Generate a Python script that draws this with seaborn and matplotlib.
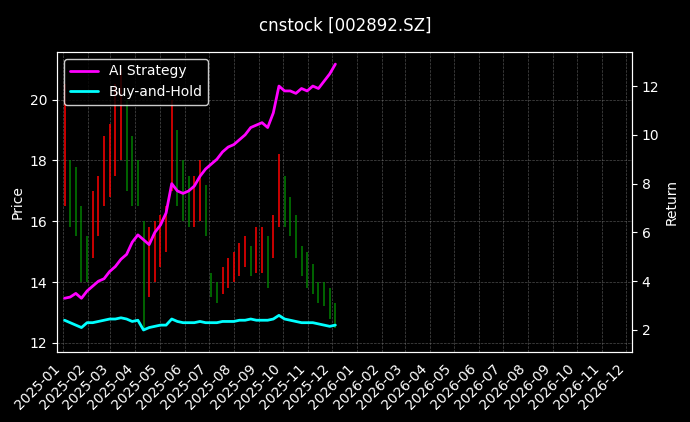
import matplotlib
matplotlib.use("Agg")
import matplotlib.pyplot as plt
import matplotlib.dates as mdates
import seaborn as sns
import pandas as pd

sns.set_style("dark")
plt.style.use("dark_background")

dates = pd.date_range("2025-01-03", periods=49, freq="W-FRI")
high = [20.5,18,17.8,16.5,15.5, 17,17.5,18.8,19.2, 20.5,21,20,18.8, 18,16,15.8,16,
        16.2,16.5,20,19,18, 17.5,17.5,18,17.2, 14.3,14,14.5,14.8, 15,15.3,15.5,15.2,15.8,
        15.8,15.5,16.2,18.2, 17.5,16.8,16.2,15.2,15, 14.6,14,14,13.8, 13.3]
low = [16.5,15.8,15.5,14,14, 14.8,15.5,16.5,16.8, 17.5,18,17,16.5, 16.5,12.5,13.5,14,
       14.5,15,17,16.5,16, 15.8,15.8,16,15.5, 13.5,13.3,13.6,13.8, 14,14.2,14.5,14.2,14.3,
       14.3,13.8,14.8,15.8, 15.8,15.5,14.8,14.2,13.8, 13.6,13.3,13.2,12.8, 12.5]
strategy = [3.3,3.35,3.5,3.3,3.6, 3.8,4.0,4.1,4.4, 4.6,4.9,5.1,5.6, 5.9,5.7,5.5,6.0,
            6.3,6.8,8.0,7.7,7.6, 7.7,7.9,8.3,8.6, 8.8,9.0,9.3,9.5, 9.6,9.8,10.0,10.3,10.4,
            10.5,10.3,10.9,12.0, 11.8,11.8,11.7,11.9,11.8, 12.0,11.9,12.2,12.5, 12.9]
buyhold = [2.4,2.3,2.2,2.1,2.3, 2.3,2.35,2.4,2.45, 2.45,2.5,2.45,2.35, 2.4,2.0,2.1,2.15,
           2.2,2.2,2.45,2.35,2.3, 2.3,2.3,2.35,2.3, 2.3,2.3,2.35,2.35, 2.35,2.4,2.4,2.45,2.4,
           2.4,2.4,2.45,2.6, 2.45,2.4,2.35,2.3,2.3, 2.3,2.25,2.2,2.15, 2.2]

df = pd.DataFrame({"date": dates, "high": high, "low": low,
                   "strategy": strategy, "buyhold": buyhold})
mid = (df.high + df.low) / 2
colors = ["red" if i == 0 or mid[i] >= mid[i-1] else "green" for i in range(len(df))]

fig = plt.figure(figsize=(6.9, 4.22), dpi=100, facecolor="black")
ax = fig.add_axes([0.083, 0.166, 0.833, 0.711])
ax.set_facecolor("black")
ax.vlines(df.date, df.low, df.high, colors=colors, linewidth=1.3, alpha=0.85)
ax.set_ylabel("Price", color="white")
ax.set_ylim(11.7, 21.57)
ax.set_xlim(pd.Timestamp("2024-12-25"), pd.Timestamp("2026-12-08"))
ax.xaxis.set_major_locator(mdates.MonthLocator())
ax.xaxis.set_major_formatter(mdates.DateFormatter("%Y-%m"))
plt.setp(ax.get_xticklabels(), rotation=45, ha="right")
ax.grid(True, color="gray", linestyle="--", linewidth=0.5, alpha=0.6)

ax2 = ax.twinx()
sns.lineplot(data=df, x="date", y="strategy", ax=ax2, color="magenta", linewidth=2, label="AI Strategy", legend=False)
sns.lineplot(data=df, x="date", y="buyhold", ax=ax2, color="cyan", linewidth=2, label="Buy-and-Hold", legend=False)
ax2.set_ylim(1.1, 13.4)
ax2.set_ylabel("Return", color="white")
ax2.set_xlabel("")
ax.set_xlabel("")
ax2.legend(loc="upper left", facecolor="black", edgecolor="white")
for a in (ax, ax2):
    for s in a.spines.values():
        s.set_color("white")
fig.suptitle("cnstock [002892.SZ]", color="white", fontsize=12, y=0.96)
fig.savefig("out.png", dpi=100, facecolor="black")
